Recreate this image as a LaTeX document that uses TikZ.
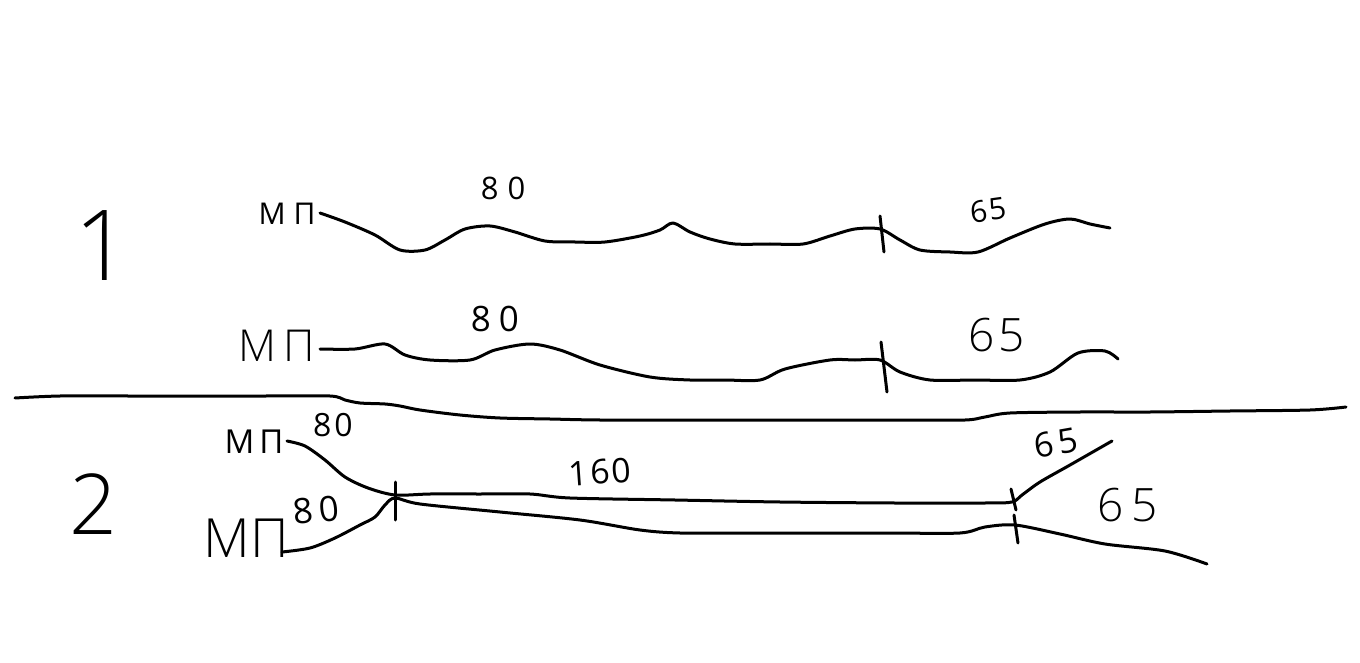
\documentclass[tikz,border=0pt]{standalone}
\usepackage{fontspec}
\setmainfont{Open Sans Light}
\newfontfamily\regfont{Open Sans}
\begin{document}
\begin{tikzpicture}[x=1pt,y=-1pt,
    line/.style={line width=3pt,line cap=round,line join=round,smooth,tension=0.5},
    tick/.style={line width=3pt,line cap=round},
    lbl/.style={inner sep=0pt,font=\fontsize{#1}{#1}\selectfont},
    lbl/.default=32,
    reg/.style={inner sep=0pt,font=\fontsize{#1}{#1}\selectfont\regfont}]

  \useasboundingbox (0,0) rectangle (1360,663);

  \node[lbl=98] (n1) at (102,246) {1};
  \node[lbl=84] (n2) at (93,504) {2};

  \node[reg=30] (mp1) at (287,214) {М\hspace{8pt}П};
  \node[lbl=44] (mp2) at (277,346) {М\hspace{7pt}П};
  \node[reg=33] (mp3) at (254,442) {М\hspace{5pt}П};
  \node[lbl=54] (mp4) at (246,538) {МП};

  \node[reg=31] (a80) at (503,188) {8\hspace{9pt}0};
  \node[reg=30] (a65) at (988,210) [rotate=8] {6\hspace{2pt}5};
  \node[reg=35] (b80) at (495,319) {8\hspace{8pt}0};
  \node[lbl=46] (b65) at (997,335) {6\hspace{4pt}5};
  \node[reg=32] (c80) at (333,425) {8\hspace{3pt}0};
  \node[reg=34] (c160) at (600,472) [rotate=4] {1\hspace{2pt}6\hspace{2pt}0};
  \node[reg=34] (c65) at (1056,443) [rotate=10] {6\hspace{5pt}5};
  \node[reg=35] (d80) at (316,510) [rotate=6] {8\hspace{6pt}0};
  \node[lbl=46] (d65) at (1128,505) {6\hspace{8pt}5};

  % top lines
  \draw[line] plot coordinates {(320,213) (345,222) (375,235) (400,250) (425,250)
    (445,240) (465,229) (490,226) (515,232) (545,241) (575,242) (605,242) (640,236) (660,230)
    (673,223) (690,232) (710,239) (735,244) (770,244) (803,244) (830,236) (855,229) (880,229) (900,240)
    (920,250) (950,252) (978,252) (1010,238) (1045,224) (1070,219) (1090,224) (1110,228)};
  \draw[line] plot coordinates {(320,349) (355,349) (385,344) (405,355) (430,360)
    (470,360) (495,350) (530,344) (560,350) (600,365) (650,377) (690,380) (725,380) (760,380)
    (785,369) (830,360) (855,360) (880,360) (900,372) (930,380) (975,380) (1020,380) (1050,372)
    (1078,353) (1105,351) (1118,359)};

  % divider
  \draw[line] plot coordinates {(15,398) (60,396) (130,396) (200,396) (265,396) (330,396)
    (345,400) (360,403) (385,404) (400,406) (420,410) (460,415) (500,418) (550,419)
    (600,420) (700,420) (830,420) (900,420) (965,420) (985,417) (1010,413) (1080,412)
    (1150,412) (1230,411) (1310,410) (1346,407)};

  % bottom lines
  \draw[line] plot coordinates {(287,441) (305,446) (325,460) (345,477) (368,488)
    (395,495) (430,494) (480,494) (530,494) (570,498) (675,500) (780,502) (895,503) (985,503)
    (1012,502) (1022,495) (1040,482) (1070,465) (1112,441)};
  \draw[line] plot coordinates {(282,552) (310,548) (335,538) (360,525) (375,517)
    (385,505) (395,498) (420,504) (500,512) (580,520) (640,530) (680,533) (750,533) (820,533)
    (890,533) (960,533) (985,527) (1015,525) (1060,534) (1105,544) (1165,551) (1207,564)};

  \draw[tick] (880,216) -- (884,252);
  \draw[tick] (881,342) -- (887,392);
  \draw[tick] (395,482) -- (395,520);
  \draw[tick] (1011,489) -- (1016,510);
  \draw[tick] (1014,515) -- (1018,543);

\end{tikzpicture}
\end{document}
